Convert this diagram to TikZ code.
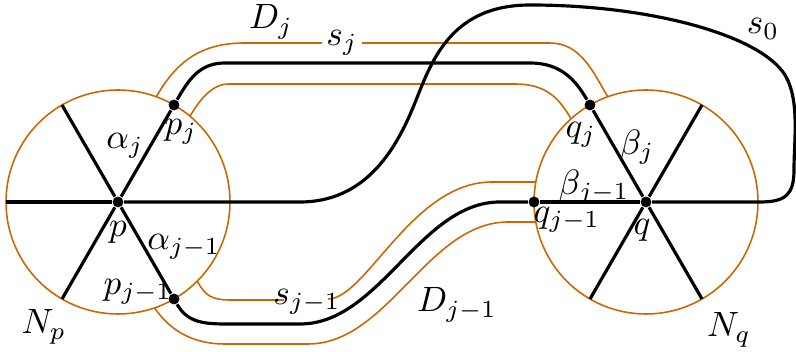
\documentclass[tikz,border=0pt]{standalone}
\usepackage{amsmath}
\usepackage{tikz}
\usetikzlibrary{calc}
\definecolor{BandOrange}{RGB}{204,102,0}

\begin{document}
\begin{tikzpicture}[x=0.01cm,y=0.01cm]
  \tikzstyle{band}=[draw=BandOrange,line width=0.45pt]
  \tikzstyle{strand}=[draw=black,line width=0.9pt]
  \tikzstyle{dot}=[circle,fill=black,inner sep=0pt,minimum size=3.1pt]
  \useasboundingbox (0,0) rectangle (796,352);

  % the two discs
  \node[dot] (p) at (118,150) {};
  \node[dot] (q) at (646,150) {};
  \draw[band] (p) circle (112);
  \draw[band] (q) circle (112);

  % bands D_j and D_{j-1}, broken where s_j and s_{j-1} sit
  \draw[band] ($(p)+(70:112)$) .. controls +(60:40) and +(180:45) .. (245,309)
    -- (322,309);
  \draw[band] (362,309) -- (550,309) .. controls +(0:30) and +(120:30) .. ($(q)+(110:112)$);
  \draw[band] ($(p)+(50:112)$) .. controls +(60:20) and +(180:15) .. (228,268)
    -- (515,268) .. controls +(0:30) and +(120:25) .. ($(q)+(132:112)$);
  \draw[band] ($(p)+(315:112)$) .. controls +(300:15) and +(180:20) .. (230,52)
    -- (284,52);
  \draw[band] (328,53) .. controls (366,53) and (412,170) .. (492,170) -- (535.8,170);
  \draw[band] ($(p)+(289:112)$) .. controls +(305:25) and +(180:35) .. (225,8)
    -- (308,8) .. controls (388,8) and (428,130) .. (508,130) -- (535.8,130);

  % end points on the boundary
  \node[dot] (pj) at ($(p)+(60:112)$) {};
  \node[dot] (pj1) at ($(p)+(300:112)$) {};
  \node[dot] (qj) at ($(q)+(120:112)$) {};
  \node[dot] (qj1) at ($(q)+(180:112)$) {};

  % rays
  \draw[strand] (p) -- (pj);
  \draw[strand] (p) -- (pj1);
  \foreach \a in {120,180,240}
    \draw[strand] (p) -- ($(p)+(\a:112)$);
  \draw[strand] (q) -- (qj);
  \draw[strand] (q) -- (qj1);
  \foreach \a in {60,240,300}
    \draw[strand] (q) -- ($(q)+(\a:112)$);

  % arcs s_j, s_{j-1}, s_0
  \draw[strand] (pj) .. controls +(60:30) and +(180:25) .. (225,289)
    -- (530,289) .. controls +(0:30) and +(120:30) .. (qj);
  \draw[strand] (pj1) .. controls +(300:25) and +(180:25) .. (225,28)
    -- (300,28) .. controls (380,28) and (420,150) .. (500,150) -- (qj1);
  \draw[strand] (p) -- (300,150) .. controls (365,150) and (395,202) .. (412,242)
    .. controls (429,282) and (445,347) .. (530,347)
    .. controls (650,347) and (760,317) .. (785,277)
    .. controls (800,252) and (794,212) .. (794,182)
    .. controls (794,157) and (785,150) .. (760,150) -- (q);

  % labels
  \node (Dj) at (271,330) {$D_j$};
  \node (sj) at (342,309) {$s_j$};
  \node (s0) at (763,323) {$s_0$};
  \node (alj) at (125,206) {$\alpha_j$};
  \node (lpj) at (181,220) {$p_j$};
  \node (lp) at (118,120) {$p$};
  \node (alj1) at (184,105) {$\alpha_{j-1}$};
  \node (lpj1) at (138,60) {$p_{j-1}$};
  \node (Np) at (44,25) {$N_p$};
  \node (sj1) at (307,50) {$s_{j-1}$};
  \node (Dj1) at (457,47) {$D_{j-1}$};
  \node (lqj) at (581,217) {$q_j$};
  \node (bej) at (637,205) {$\beta_j$};
  \node (bej1) at (594,165) {$\beta_{j-1}$};
  \node (lqj1) at (567,132) {$q_{j-1}$};
  \node (lq) at (642,122) {$q$};
  \node (Nq) at (729,22) {$N_q$};
\end{tikzpicture}
\end{document}
